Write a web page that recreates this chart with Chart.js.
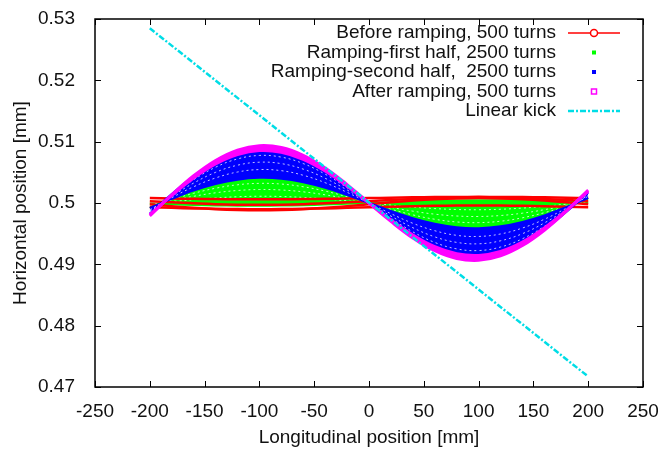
<!DOCTYPE html>
<html>
<head>
<meta charset="utf-8">
<script src="https://cdn.jsdelivr.net/npm/chart.js@4.4.0/dist/chart.umd.min.js"></script>
<style>
  html, body { margin: 0; padding: 0; background: #fff; }
  #wrap { width: 658px; height: 450px; }
</style>
</head>
<body>
<div id="wrap"><canvas id="chart"></canvas></div>
<script>
// longitudinal position [mm], sampled every 20 mm
const xPos = [-200, -180, -160, -140, -120, -100, -80, -60, -40, -20, 0, 20, 40, 60, 80, 100, 120, 140, 160, 180, 200];

// before ramping (red), a few turns across the band
const before1 = [0.5008, 0.50074, 0.50068, 0.50064, 0.50061, 0.5006, 0.50061, 0.50064, 0.50068, 0.50074, 0.5008, 0.50086, 0.50092, 0.50096, 0.50099, 0.501, 0.50099, 0.50096, 0.50092, 0.50086, 0.5008];
const before2 = [0.5003, 0.50011, 0.49995, 0.49981, 0.49973, 0.4997, 0.49973, 0.49981, 0.49995, 0.50011, 0.5003, 0.50049, 0.50065, 0.50079, 0.50087, 0.5009, 0.50087, 0.50079, 0.50065, 0.50049, 0.5003];
const before3 = [0.4998, 0.49949, 0.49921, 0.49899, 0.49885, 0.4988, 0.49885, 0.49899, 0.49921, 0.49949, 0.4998, 0.50011, 0.50039, 0.50061, 0.50075, 0.5008, 0.50075, 0.50061, 0.50039, 0.50011, 0.4998];
const before4 = [0.4993, 0.49921, 0.49912, 0.49906, 0.49901, 0.499, 0.49901, 0.49906, 0.49912, 0.49921, 0.4993, 0.49939, 0.49948, 0.49954, 0.49959, 0.4996, 0.49959, 0.49954, 0.49948, 0.49939, 0.4993];

// ramping, first half (green): lower and upper edge of the band, some turns inside
const firstLo = [0.4999, 0.49979, 0.49968, 0.49961, 0.49956, 0.49955, 0.49958, 0.49965, 0.49974, 0.49987, 0.5, 0.50013, 0.50026, 0.50035, 0.50042, 0.50045, 0.50044, 0.50039, 0.50032, 0.50021, 0.5001];
const firstHi = [0.4992, 0.50067, 0.50201, 0.50308, 0.5038, 0.5041, 0.50396, 0.5034, 0.50249, 0.50131, 0.5, 0.49869, 0.49751, 0.4966, 0.49604, 0.4959, 0.4962, 0.49692, 0.49799, 0.49933, 0.5008];
const firstIn1 = [0.4998, 0.50019, 0.50055, 0.50083, 0.50102, 0.5011, 0.50106, 0.50091, 0.50067, 0.50035, 0.5, 0.49965, 0.49933, 0.49909, 0.49894, 0.4989, 0.49898, 0.49917, 0.49945, 0.49981, 0.5002];
const firstIn2 = [0.4996, 0.50038, 0.50109, 0.50166, 0.50204, 0.5022, 0.50212, 0.50182, 0.50133, 0.5007, 0.5, 0.4993, 0.49867, 0.49818, 0.49788, 0.4978, 0.49796, 0.49834, 0.49891, 0.49962, 0.5004];
const firstIn3 = [0.4994, 0.50054, 0.50158, 0.50241, 0.50297, 0.5032, 0.50309, 0.50265, 0.50194, 0.50102, 0.5, 0.49898, 0.49806, 0.49735, 0.49691, 0.4968, 0.49703, 0.49759, 0.49842, 0.49946, 0.5006];

// ramping, second half (blue)
const secondLo = firstHi;
const secondHi = [0.4983, 0.50147, 0.50434, 0.50666, 0.5082, 0.50885, 0.50854, 0.50734, 0.50536, 0.50283, 0.5, 0.49717, 0.49464, 0.49266, 0.49146, 0.49115, 0.4918, 0.49334, 0.49566, 0.49853, 0.5017];
const secondIn1 = [0.4989, 0.50086, 0.50265, 0.50408, 0.50505, 0.50545, 0.50527, 0.50452, 0.50331, 0.50174, 0.5, 0.49826, 0.49669, 0.49548, 0.49473, 0.49455, 0.49495, 0.49592, 0.49735, 0.49914, 0.5011];
const secondIn2 = [0.4987, 0.50109, 0.50325, 0.505, 0.50616, 0.50665, 0.50642, 0.50552, 0.50403, 0.50213, 0.5, 0.49787, 0.49597, 0.49448, 0.49358, 0.49335, 0.49384, 0.495, 0.49675, 0.49891, 0.5013];
const secondIn3 = [0.4985, 0.50128, 0.5038, 0.50583, 0.50718, 0.50775, 0.50748, 0.50643, 0.5047, 0.50248, 0.5, 0.49752, 0.4953, 0.49357, 0.49252, 0.49225, 0.49282, 0.49417, 0.4962, 0.49872, 0.5015];

// after ramping (magenta)
const afterLo = [0.4981, 0.50123, 0.50407, 0.50636, 0.50789, 0.50855, 0.50827, 0.50712, 0.50521, 0.50275, 0.5, 0.49725, 0.49479, 0.49288, 0.49173, 0.49145, 0.49211, 0.49364, 0.49593, 0.49877, 0.5019];
const afterHi = [0.4979, 0.50132, 0.50444, 0.50694, 0.50863, 0.50935, 0.50905, 0.50778, 0.5057, 0.503, 0.5, 0.497, 0.4943, 0.49222, 0.49095, 0.49065, 0.49137, 0.49306, 0.49556, 0.49868, 0.5021];

// linear kick
const kickX = [-200, 200];
const kickY = [0.5285, 0.4717];

const xTicks = [-250, -200, -150, -100, -50, 0, 50, 100, 150, 200, 250];
const yTicks = [0.47, 0.48, 0.49, 0.5, 0.51, 0.52, 0.53];
const yTickLabels = ["0.47", "0.48", "0.49", "0.5", "0.51", "0.52", "0.53"];

const legendLabels = [
  "Before ramping, 500 turns",
  "Ramping-first half, 2500 turns",
  "Ramping-second half,  2500 turns",
  "After ramping, 500 turns",
  "Linear kick",
];

const FONT = "'Liberation Sans', Arial, Helvetica, sans-serif";
const FSIZE = 19;
const RED = "#ff0000", GREEN = "#00ff00", BLUE = "#0000ff", MAGENTA = "#ff00ff", CYAN = "#00dde6";

function pts(xs, ys) {
  return xs.map((x, i) => ({ x: x, y: ys[i] }));
}

function band(ys, color, width, fill) {
  return { data: pts(xPos, ys), borderColor: color, backgroundColor: color, borderWidth: width, fill: fill || false };
}

function inner(ys) {
  return { data: pts(xPos, ys), borderColor: "rgba(255,255,255,0.75)", borderWidth: 1, borderDash: [2, 3], fill: false };
}

// first dataset is drawn on top
const datasets = [
  { data: pts(kickX, kickY), borderColor: CYAN, borderWidth: 2.5, borderDash: [6, 2, 2, 2], tension: 0, fill: false },
  band(afterHi, MAGENTA, 3, "+1"),
  band(afterLo, MAGENTA, 3),
  inner(secondIn3),
  inner(secondIn2),
  inner(secondIn1),
  band(secondHi, BLUE, 2, "+1"),
  band(secondLo, BLUE, 2),
  band(before1, RED, 2.5),
  band(before2, RED, 2.5),
  band(before3, RED, 2.5),
  band(before4, RED, 2.5),
  inner(firstIn3),
  inner(firstIn2),
  inner(firstIn1),
  band(firstHi, GREEN, 2, "+1"),
  band(firstLo, GREEN, 2),
];

// frame, inward ticks on all sides, gnuplot-style key
const framePlugin = {
  id: "frame",
  afterDatasetsDraw(chart) {
    const { ctx, chartArea: a, scales } = chart;
    const sx = scales.x, sy = scales.y;
    ctx.save();
    ctx.strokeStyle = "#000";
    ctx.lineWidth = 1;
    ctx.beginPath();
    xTicks.forEach((v) => {
      const p = Math.round(sx.getPixelForValue(v)) + 0.5;
      ctx.moveTo(p, a.bottom); ctx.lineTo(p, a.bottom - 6);
      ctx.moveTo(p, a.top); ctx.lineTo(p, a.top + 6);
    });
    yTicks.forEach((v) => {
      const p = Math.round(sy.getPixelForValue(v)) + 0.5;
      ctx.moveTo(a.left, p); ctx.lineTo(a.left + 6, p);
      ctx.moveTo(a.right, p); ctx.lineTo(a.right - 6, p);
    });
    ctx.stroke();
    ctx.lineWidth = 1.5;
    ctx.strokeRect(a.left, a.top, a.right - a.left, a.bottom - a.top);

    // key
    ctx.font = FSIZE + "px " + FONT;
    ctx.fillStyle = "#111";
    ctx.textAlign = "right";
    ctx.textBaseline = "middle";
    const tx = 556, s0 = 568, s1 = 620, sm = 594;
    legendLabels.forEach((t, i) => {
      const ry = 33 + i * 19.5;
      ctx.fillText(t, tx, ry);
      ctx.setLineDash([]);
      if (i === 0) {
        ctx.strokeStyle = RED; ctx.lineWidth = 1.5;
        ctx.beginPath(); ctx.moveTo(s0, ry); ctx.lineTo(s1, ry); ctx.stroke();
        ctx.beginPath(); ctx.arc(sm, ry, 3.5, 0, Math.PI * 2); ctx.fillStyle = "#fff"; ctx.fill(); ctx.stroke();
        ctx.fillStyle = "#111";
      } else if (i === 1) {
        ctx.fillStyle = GREEN; ctx.fillRect(sm - 2, ry - 2, 4, 4); ctx.fillStyle = "#111";
      } else if (i === 2) {
        ctx.fillStyle = BLUE; ctx.fillRect(sm - 2, ry - 2, 4, 4); ctx.fillStyle = "#111";
      } else if (i === 3) {
        ctx.strokeStyle = MAGENTA; ctx.lineWidth = 1.5; ctx.strokeRect(sm - 2.5, ry - 2.5, 5, 5);
      } else {
        ctx.strokeStyle = CYAN; ctx.lineWidth = 2.5; ctx.setLineDash([6, 2, 2, 2]);
        ctx.beginPath(); ctx.moveTo(s0, ry); ctx.lineTo(s1, ry); ctx.stroke();
      }
    });
    ctx.restore();
  },
};

new Chart(document.getElementById("chart"), {
  type: "line",
  data: { datasets: datasets },
  plugins: [framePlugin],
  options: {
    responsive: true,
    maintainAspectRatio: false,
    animation: false,
    layout: { padding: { top: 19, right: 15, left: 0, bottom: 0 } },
    elements: { point: { radius: 0, hoverRadius: 0 }, line: { tension: 0.4 } },
    plugins: { legend: { display: false }, tooltip: { enabled: false } },
    scales: {
      x: {
        type: "linear",
        min: -250,
        max: 250,
        afterBuildTicks: (s) => { s.ticks = xTicks.map((v) => ({ value: v })); },
        afterFit: (s) => { s.height = 63; s.paddingLeft = 0; s.paddingRight = 0; },
        grid: { display: false },
        border: { display: false },
        ticks: { font: { family: FONT, size: FSIZE }, color: "#111", padding: 5, maxRotation: 0, autoSkip: false },
        title: { display: true, text: "Longitudinal position [mm]", font: { family: FONT, size: FSIZE }, color: "#111", padding: { top: 0, bottom: 1 } },
      },
      y: {
        type: "linear",
        min: 0.47,
        max: 0.53,
        afterBuildTicks: (s) => { s.ticks = yTicks.map((v) => ({ value: v })); },
        afterFit: (s) => { s.width = 95; s.paddingTop = 0; s.paddingBottom = 0; },
        grid: { display: false },
        border: { display: false },
        ticks: { font: { family: FONT, size: FSIZE }, color: "#111", padding: 12, autoSkip: false, callback: (v, i) => yTickLabels[i] },
        title: { display: true, text: "Horizontal position [mm]", font: { family: FONT, size: FSIZE }, color: "#111", padding: { top: 9, bottom: 0 } },
      },
    },
  },
});
</script>
</body>
</html>
